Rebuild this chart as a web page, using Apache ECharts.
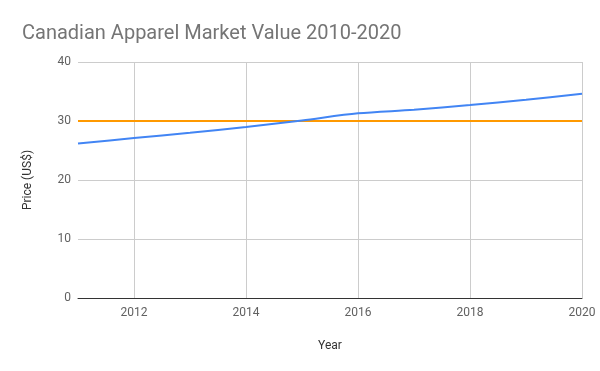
<!DOCTYPE html>
<html><head><meta charset="utf-8">
<script src="https://cdn.jsdelivr.net/npm/echarts@6/dist/echarts.min.js"></script>
<style>html,body{margin:0;padding:0;background:#fff}#c{width:600px;height:371px}</style>
</head><body><div id="c"></div>
<script>
const years = [2011, 2012, 2013, 2014, 2015, 2016, 2017, 2018, 2019, 2020];
const marketValue = [26.2, 27.1, 28.0, 29.0, 30.1, 31.3, 31.9, 32.7, 33.6, 34.6];
const reference = [30, 30, 30, 30, 30, 30, 30, 30, 30, 30];
const yTicks = [0, 10, 20, 30, 40];

const chart = echarts.init(document.getElementById('c'), null, {renderer: 'canvas'});
const font = 'Roboto';
chart.setOption({
  animation: false,
  title: {
    text: 'Canadian Apparel Market Value 2010-2020',
    left: 17, top: 19,
    textStyle: {fontFamily: font, fontSize: 20, fontWeight: 'normal', color: '#757575'}
  },
  grid: {left: 78, right: 18, top: 62, bottom: 73},
  xAxis: {
    type: 'value', min: years[0], max: years[years.length - 1],
    splitNumber: 5,
    name: 'Year', nameLocation: 'middle', nameGap: 42,
    nameTextStyle: {fontFamily: font, fontSize: 12, color: '#333'},
    axisLine: {show: true, lineStyle: {color: '#333', width: 1}},
    axisTick: {show: false},
    axisLabel: {showMinLabel: false, fontFamily: font, fontSize: 12, color: '#616161', margin: 9,
      formatter: v => String(v)},
    splitLine: {show: true, showMinLine: false, lineStyle: {color: '#cccccc'}}
  },
  yAxis: {
    type: 'value', min: yTicks[0], max: yTicks[yTicks.length - 1], interval: 10,
    name: 'Price (US$)', nameLocation: 'middle', nameGap: 44,
    nameTextStyle: {fontFamily: font, fontSize: 12, color: '#333'},
    axisLine: {show: false}, axisTick: {show: false},
    axisLabel: {fontFamily: font, fontSize: 12, color: '#616161', margin: 7},
    splitLine: {show: true, lineStyle: {color: '#cccccc'}}
  },
  series: [
    {type: 'line', data: years.map((y, i) => [y, marketValue[i]]), smooth: 0.3,
     showSymbol: false, lineStyle: {color: '#4285f4', width: 2}, z: 3},
    {type: 'line', data: years.map((y, i) => [y, reference[i]]),
     showSymbol: false, lineStyle: {color: '#ff9900', width: 2}, z: 2}
  ]
});
</script></body></html>
